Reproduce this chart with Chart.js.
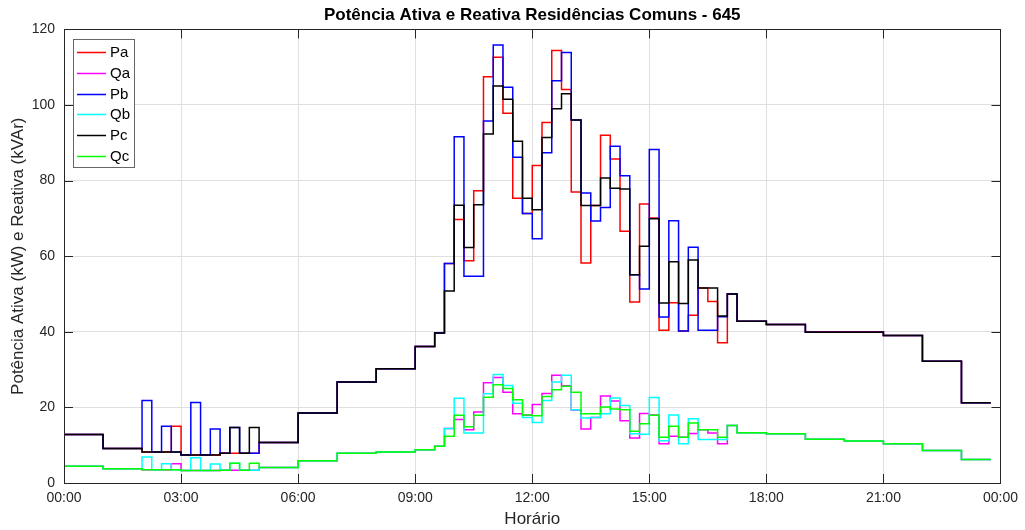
<!DOCTYPE html>
<html lang="pt">
<head>
<meta charset="utf-8">
<title>Potência Ativa e Reativa Residências Comuns - 645</title>
<script src="https://cdn.jsdelivr.net/npm/chart.js@4.4.1/dist/chart.umd.min.js"></script>
<style>
  html, body { margin: 0; padding: 0; background: #fff; }
  #wrap { width: 1025px; height: 530px; }
</style>
</head>
<body>
<div id="wrap"><canvas id="chart"></canvas></div>
<script>
// medições a cada 15 min (96 pontos), uma linha por hora
const pa = [
  12.8,12.8,12.8,12.8,  9.1,9.1,9.1,9.1,  8.2,8.2,8.2,15.0,  7.4,7.4,7.4,7.4,
  7.9,7.9,7.9,7.9,  10.7,10.7,10.7,10.7,  18.5,18.5,18.5,18.5,  26.7,26.7,26.7,26.7,
  30.2,30.2,30.2,30.2,  36.1,36.1,39.7,58.1,  69.7,58.8,77.3,107.5,  112.6,97.8,75.3,71.3,
  84.0,95.4,114.4,104.1,  77.0,58.2,73.4,92.0,  85.7,66.6,47.9,73.8,  70.1,40.4,47.7,40.2,
  44.4,51.6,48.0,37.1,  50.0,42.8,42.8,42.8,  41.9,41.9,41.9,41.9,  40.0,40.0,40.0,40.0,
  40.0,40.0,40.0,40.0,  39.0,39.0,39.0,39.0,  32.2,32.2,32.2,32.2,  21.2,21.2,21.2,21.2
];
const qa = [
  4.4,4.4,4.4,4.4,  3.8,3.8,3.8,3.8,  3.5,3.5,3.5,5.1,  3.3,3.3,3.3,3.3,
  3.4,3.4,3.4,3.4,  4.1,4.1,4.1,4.1,  5.9,5.9,5.9,5.9,  7.9,7.9,7.9,7.9,
  8.2,8.2,8.2,8.2,  8.8,8.8,9.7,14.4,  16.8,14.1,18.8,26.5,  27.9,24.0,18.3,17.9,
  20.8,23.7,28.5,25.7,  19.3,14.3,17.3,23.0,  21.7,16.5,11.9,18.4,  18.0,10.4,12.4,12.1,
  13.1,14.1,13.2,10.4,  15.2,13.3,13.3,13.3,  13.0,13.0,13.0,13.0,  11.6,11.6,11.6,11.6,
  11.1,11.1,11.1,11.1,  10.4,10.4,10.4,10.4,  8.6,8.6,8.6,8.6,  6.2,6.2,6.2,6.2
];
const pb = [
  12.8,12.8,12.8,12.8,  9.1,9.1,9.1,9.1,  21.8,8.2,15.0,8.2,  7.4,21.3,7.4,14.3,
  7.9,14.7,7.9,7.9,  10.7,10.7,10.7,10.7,  18.5,18.5,18.5,18.5,  26.7,26.7,26.7,26.7,
  30.2,30.2,30.2,30.2,  36.1,36.1,39.7,58.1,  91.6,54.7,54.7,95.8,  115.9,104.7,86.2,71.3,
  64.6,87.4,106.4,113.9,  96.0,76.7,69.3,72.9,  89.1,81.3,55.1,51.3,  88.2,43.9,69.4,40.2,
  62.4,40.4,40.4,44.0,  50.0,42.8,42.8,42.8,  41.9,41.9,41.9,41.9,  39.9,39.9,39.9,39.9,
  39.9,39.9,39.9,39.9,  39.0,39.0,39.0,39.0,  32.2,32.2,32.2,32.2,  21.2,21.2,21.2,21.2
];
const qb = [
  4.4,4.4,4.4,4.4,  3.8,3.8,3.8,3.8,  6.9,3.5,5.1,3.5,  3.3,6.7,3.3,5.0,
  3.4,5.2,3.4,3.4,  4.1,4.1,4.1,4.1,  5.9,5.9,5.9,5.9,  7.9,7.9,7.9,7.9,
  8.2,8.2,8.2,8.2,  8.8,8.8,9.7,14.4,  22.4,13.2,13.2,23.6,  28.7,25.8,21.1,17.3,
  16.0,21.8,26.7,28.5,  19.4,17.2,17.3,18.3,  22.5,20.5,13.0,12.9,  22.6,11.2,18.0,10.4,
  17.0,11.5,11.5,11.5,  15.2,13.3,13.3,13.3,  13.0,13.0,13.0,13.0,  11.6,11.6,11.6,11.6,
  11.1,11.1,11.1,11.1,  10.4,10.4,10.4,10.4,  8.6,8.6,8.6,8.6,  6.2,6.2,6.2,6.2
];
const pc = [
  12.8,12.8,12.8,12.8,  9.1,9.1,9.1,9.1,  8.2,8.2,8.2,8.2,  7.4,7.4,7.4,7.4,
  7.9,14.7,7.9,14.7,  10.7,10.7,10.7,10.7,  18.5,18.5,18.5,18.5,  26.7,26.7,26.7,26.7,
  30.2,30.2,30.2,30.2,  36.1,36.1,39.7,50.8,  73.5,62.3,73.6,92.3,  105.0,101.5,90.4,75.3,
  72.3,91.4,99.0,103.0,  96.0,73.4,73.4,80.7,  78.0,77.8,55.1,62.6,  69.9,47.6,58.5,47.5,
  59.0,51.6,51.6,44.2,  50.0,42.8,42.8,42.8,  41.9,41.9,41.9,41.9,  39.9,39.9,39.9,39.9,
  39.9,39.9,39.9,39.9,  39.0,39.0,39.0,39.0,  32.2,32.2,32.2,32.2,  21.2,21.2,21.2,21.2
];
const qc = [
  4.4,4.4,4.4,4.4,  3.8,3.8,3.8,3.8,  3.5,3.5,3.5,3.5,  3.3,3.3,3.3,3.3,
  3.4,5.2,3.4,5.2,  4.1,4.1,4.1,4.1,  5.9,5.9,5.9,5.9,  7.9,7.9,7.9,7.9,
  8.2,8.2,8.2,8.2,  8.8,8.8,9.7,12.4,  17.9,14.9,17.9,22.7,  26.0,25.0,22.0,18.0,
  17.8,22.9,24.7,25.6,  24.0,18.3,18.3,20.1,  19.6,19.4,13.7,15.7,  17.9,12.1,15.0,12.1,
  15.9,14.1,14.1,12.1,  15.2,13.3,13.3,13.3,  13.0,13.0,13.0,13.0,  11.6,11.6,11.6,11.6,
  11.1,11.1,11.1,11.1,  10.4,10.4,10.4,10.4,  8.6,8.6,8.6,8.6,  6.2,6.2,6.2,6.2
];

const seriesNames  = ["Pa", "Qa", "Pb", "Qb", "Pc", "Qc"];
const seriesValues = [pa, qa, pb, qb, pc, qc];
const seriesColors = ["#ff0000", "#ff00ff", "#0000ff", "#00ffff", "#000000", "#00ff00"];

const FONT = "'Liberation Sans', Arial, Helvetica, sans-serif";
const AXIS = "#262626";

// hora decimal do i-ésimo ponto (passo de 15 min)
const toPoints = vals => vals.map((v, i) => ({ x: i / 4, y: v }));

const hhmm = h => String(h % 24).padStart(2, "0") + ":00";

// moldura com marcas para dentro (estilo matlab)
const frame = {
  id: "frame",
  afterDatasetsDraw(chart){
    const { ctx, chartArea: a, scales: { x, y } } = chart;
    const len = 9;
    ctx.save();
    ctx.strokeStyle = AXIS;
    ctx.lineWidth = 1;
    ctx.beginPath();
    x.ticks.forEach(t => {
      const px = Math.round(x.getPixelForValue(t.value)) + 0.5;
      ctx.moveTo(px, a.bottom); ctx.lineTo(px, a.bottom - len);
      ctx.moveTo(px, a.top);    ctx.lineTo(px, a.top + len);
    });
    y.ticks.forEach(t => {
      const py = Math.round(y.getPixelForValue(t.value)) + 0.5;
      ctx.moveTo(a.left, py);  ctx.lineTo(a.left + len, py);
      ctx.moveTo(a.right, py); ctx.lineTo(a.right - len, py);
    });
    ctx.stroke();
    ctx.strokeRect(Math.round(a.left) + 0.5, Math.round(a.top) + 0.5,
                   Math.round(a.right - a.left), Math.round(a.bottom - a.top));
    ctx.restore();
  }
};

// legenda dentro da área, canto superior esquerdo
const boxLegend = {
  id: "boxLegend",
  afterDraw(chart){
    const { ctx, chartArea: a } = chart;
    const x0 = Math.round(a.left) + 9, y0 = Math.round(a.top) + 10;
    const w = 61, rowH = 20.8, h = 128;
    ctx.save();
    ctx.fillStyle = "#fff";
    ctx.fillRect(x0, y0, w, h);
    ctx.strokeStyle = "#666";
    ctx.lineWidth = 1;
    ctx.strokeRect(x0 + 0.5, y0 + 0.5, w, h);
    ctx.font = "15px " + FONT;
    ctx.textBaseline = "middle";
    chart.data.datasets.forEach((ds, i) => {
      const cy = Math.round(y0 + 13 + i * rowH) + 0.5;
      ctx.strokeStyle = ds.borderColor;
      ctx.lineWidth = 1.5;
      ctx.beginPath();
      ctx.moveTo(x0 + 4, cy);
      ctx.lineTo(x0 + 33, cy);
      ctx.stroke();
      ctx.fillStyle = "#000";
      ctx.fillText(ds.label, x0 + 37, cy);
    });
    ctx.restore();
  }
};

new Chart(document.getElementById("chart"), {
  type: "line",
  data: {
    datasets: seriesNames.map((name, i) => ({
      label: name,
      data: toPoints(seriesValues[i]),
      borderColor: seriesColors[i],
      backgroundColor: seriesColors[i],
      borderWidth: 1.5,
      stepped: "before",
      pointRadius: 0,
      fill: false,
      order: seriesNames.length - i   // o último fica por cima
    }))
  },
  options: {
    responsive: true,
    maintainAspectRatio: false,
    animation: false,
    layout: { padding: { left: 0, right: 23, top: 0, bottom: 0 } },
    plugins: {
      legend: { display: false },
      tooltip: { enabled: false },
      title: {
        display: true,
        fullSize: false,
        text: "Potência Ativa e Reativa Residências Comuns - 645",
        color: "#000",
        font: { family: FONT, size: 17, weight: "bold" },
        padding: { top: 5, bottom: 4 }
      }
    },
    scales: {
      x: {
        type: "linear",
        min: 0,
        max: 24,
        grid: { color: "#dfdfdf", drawTicks: false },
        border: { display: false },
        ticks: {
          stepSize: 3,
          padding: 7,
          color: AXIS,
          font: { family: FONT, size: 14 },
          maxRotation: 0,
          callback: v => hhmm(v)
        },
        title: {
          display: true,
          text: "Horário",
          color: AXIS,
          font: { family: FONT, size: 17 },
          padding: { top: 0, bottom: 0 }
        },
        afterFit: s => { s.height = 47; }
      },
      y: {
        min: 0,
        max: 120,
        grid: { color: "#dfdfdf", drawTicks: false },
        border: { display: false },
        ticks: {
          stepSize: 20,
          padding: 9,
          color: AXIS,
          font: { family: FONT, size: 14 }
        },
        title: {
          display: true,
          text: "Potência Ativa (kW) e Reativa (kVAr)",
          color: AXIS,
          font: { family: FONT, size: 17 },
          padding: { top: 8, bottom: 0 }
        },
        afterFit: s => { s.width = 64; }
      }
    }
  },
  plugins: [frame, boxLegend]
});
</script>
</body>
</html>
